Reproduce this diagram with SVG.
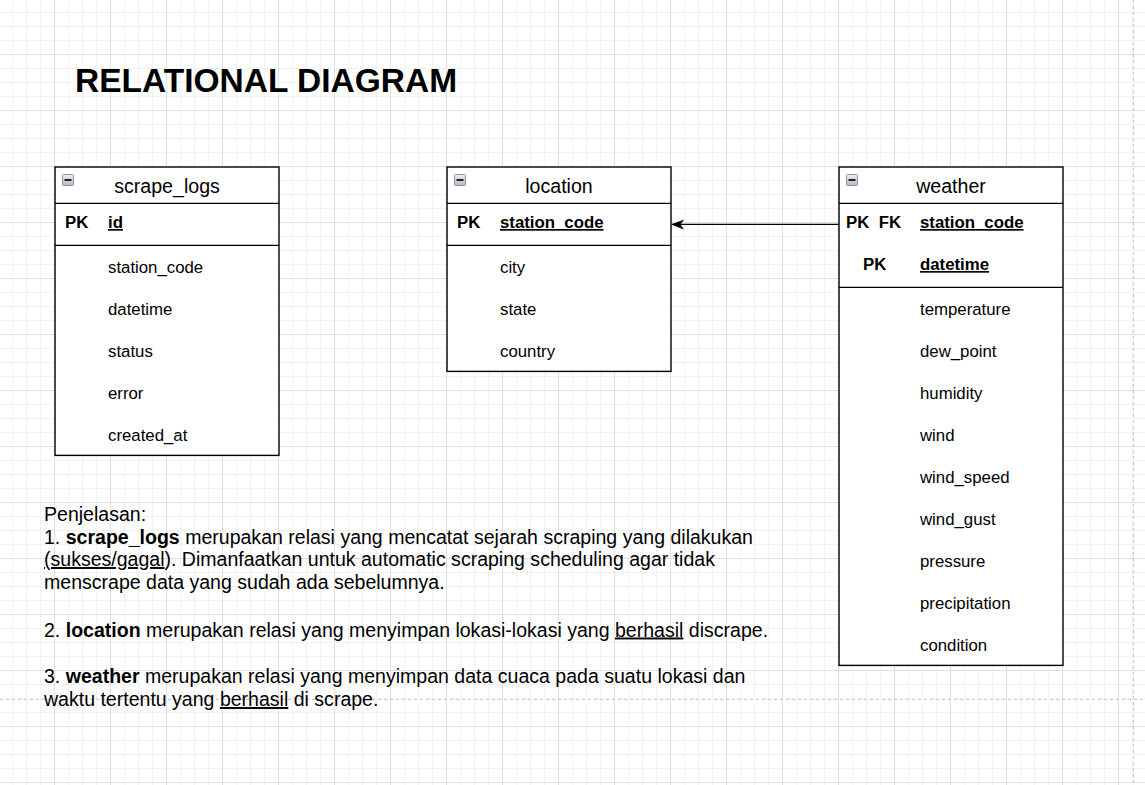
<svg xmlns="http://www.w3.org/2000/svg" width="1145" height="785" viewBox="0 0 1145 785">
<style>
  text { font-family: "Liberation Sans", Arial, sans-serif; fill: #000; }
  .title { font-size: 33.5px; font-weight: bold; }
  .hdr { font-size: 19.6px; text-anchor: middle; }
  .key { font-size: 16.8px; font-weight: bold; }
  .pk { font-size: 16.8px; font-weight: bold; text-decoration: underline; }
  .fld { font-size: 16.8px; }
  .desc { font-size: 19.55px; }
  .box { fill: #fff; stroke: #000; stroke-width: 1.4; }
  .div { stroke: #000; stroke-width: 1.4; }
  .pb { stroke: #c8c8c8; stroke-width: 1; stroke-dasharray: 3 3; fill: none; }
</style>
<defs>
  <pattern id="grid" patternUnits="userSpaceOnUse" x="54" y="54" width="56" height="56">
    <rect width="56" height="56" fill="#fff"/>
    <rect x="14" y="0" width="1" height="56" fill="#f2f2f2"/>
    <rect x="28" y="0" width="1" height="56" fill="#f2f2f2"/>
    <rect x="42" y="0" width="1" height="56" fill="#f2f2f2"/>
    <rect x="0" y="14" width="56" height="1" fill="#f2f2f2"/>
    <rect x="0" y="28" width="56" height="1" fill="#f2f2f2"/>
    <rect x="0" y="42" width="56" height="1" fill="#f2f2f2"/>
    <rect x="0" y="0" width="1" height="56" fill="#e0e0e0"/>
    <rect x="0" y="0" width="56" height="1" fill="#e0e0e0"/>
  </pattern>
  <linearGradient id="ig" x1="0" y1="0" x2="0" y2="1">
    <stop offset="0" stop-color="#f2f2f4"/>
    <stop offset="1" stop-color="#b4b8c4"/>
  </linearGradient>
  <g id="minus">
    <rect x="0.5" y="0.5" width="11" height="11" rx="1" fill="url(#ig)" stroke="#8c90a0" stroke-width="1"/>
    <rect x="2.5" y="5" width="7" height="2" fill="#222"/>
  </g>
  <marker id="arr" markerWidth="14" markerHeight="12" refX="12" refY="6" orient="auto" markerUnits="userSpaceOnUse">
    <path d="M0,1 L13,6 L0,11 L3.5,6 Z" fill="#000"/>
  </marker>
</defs>

<rect width="1145" height="785" fill="url(#grid)"/>
<line class="pb" x1="0" y1="699.5" x2="1145" y2="699.5"/>
<line class="pb" x1="1133.5" y1="0" x2="1133.5" y2="785"/>

<text class="title" x="75" y="92">RELATIONAL DIAGRAM</text>

<g id="connectors">
  <line x1="839" y1="224.4" x2="672" y2="224.4" stroke="#000" stroke-width="1.4" marker-end="url(#arr)"/>
</g>

<g id="scrape_logs">
  <rect class="box" x="55" y="167" width="224" height="288.4"/>
  <line class="div" x1="55" y1="203.4" x2="279" y2="203.4"/>
  <line class="div" x1="55" y1="245.4" x2="279" y2="245.4"/>
  <use href="#minus" x="62" y="174"/>
  <text class="hdr" x="167" y="193">scrape_logs</text>
  <text class="key" x="65" y="228">PK</text>
  <text class="pk" x="108" y="228">id</text>
  <text class="fld" x="108" y="273">station_code</text>
  <text class="fld" x="108" y="315">datetime</text>
  <text class="fld" x="108" y="357">status</text>
  <text class="fld" x="108" y="399">error</text>
  <text class="fld" x="108" y="441">created_at</text>
</g>

<g id="location">
  <rect class="box" x="447" y="167" width="224" height="204.4"/>
  <line class="div" x1="447" y1="203.4" x2="671" y2="203.4"/>
  <line class="div" x1="447" y1="245.4" x2="671" y2="245.4"/>
  <use href="#minus" x="454" y="174"/>
  <text class="hdr" x="559" y="193">location</text>
  <text class="key" x="457" y="228">PK</text>
  <text class="pk" x="500" y="228">station_code</text>
  <text class="fld" x="500" y="273">city</text>
  <text class="fld" x="500" y="315">state</text>
  <text class="fld" x="500" y="357">country</text>
</g>

<g id="weather">
  <rect class="box" x="839" y="167" width="224" height="498.4"/>
  <line class="div" x1="839" y1="203.4" x2="1063" y2="203.4"/>
  <line class="div" x1="839" y1="287.4" x2="1063" y2="287.4"/>
  <use href="#minus" x="846" y="174"/>
  <text class="hdr" x="951" y="193">weather</text>
  <text class="key" x="846" y="228" xml:space="preserve">PK  FK</text>
  <text class="pk" x="920" y="228">station_code</text>
  <text class="key" x="863" y="270">PK</text>
  <text class="pk" x="920" y="270">datetime</text>
  <text class="fld" x="920" y="315">temperature</text>
  <text class="fld" x="920" y="357">dew_point</text>
  <text class="fld" x="920" y="399">humidity</text>
  <text class="fld" x="920" y="441">wind</text>
  <text class="fld" x="920" y="483">wind_speed</text>
  <text class="fld" x="920" y="525">wind_gust</text>
  <text class="fld" x="920" y="567">pressure</text>
  <text class="fld" x="920" y="609">precipitation</text>
  <text class="fld" x="920" y="651">condition</text>
</g>

<g id="explanation">
  <text class="desc" x="44" y="521">Penjelasan:</text>
  <text class="desc" x="44" y="543.5">1. <tspan font-weight="bold">scrape_logs</tspan> merupakan relasi yang mencatat sejarah scraping yang dilakukan</text>
  <text class="desc" x="44" y="566"><tspan text-decoration="underline">(sukses/gagal</tspan>). Dimanfaatkan untuk automatic scraping scheduling agar tidak</text>
  <text class="desc" x="44" y="589">menscrape data yang sudah ada sebelumnya.</text>
  <text class="desc" x="44" y="636.5">2. <tspan font-weight="bold">location</tspan> merupakan relasi yang menyimpan lokasi-lokasi yang <tspan text-decoration="underline">berhasil</tspan> discrape.</text>
  <text class="desc" x="44" y="683">3. <tspan font-weight="bold">weather</tspan> merupakan relasi yang menyimpan data cuaca pada suatu lokasi dan</text>
  <text class="desc" x="44" y="706">waktu tertentu yang <tspan text-decoration="underline">berhasil</tspan> di scrape.</text>
</g>
</svg>
